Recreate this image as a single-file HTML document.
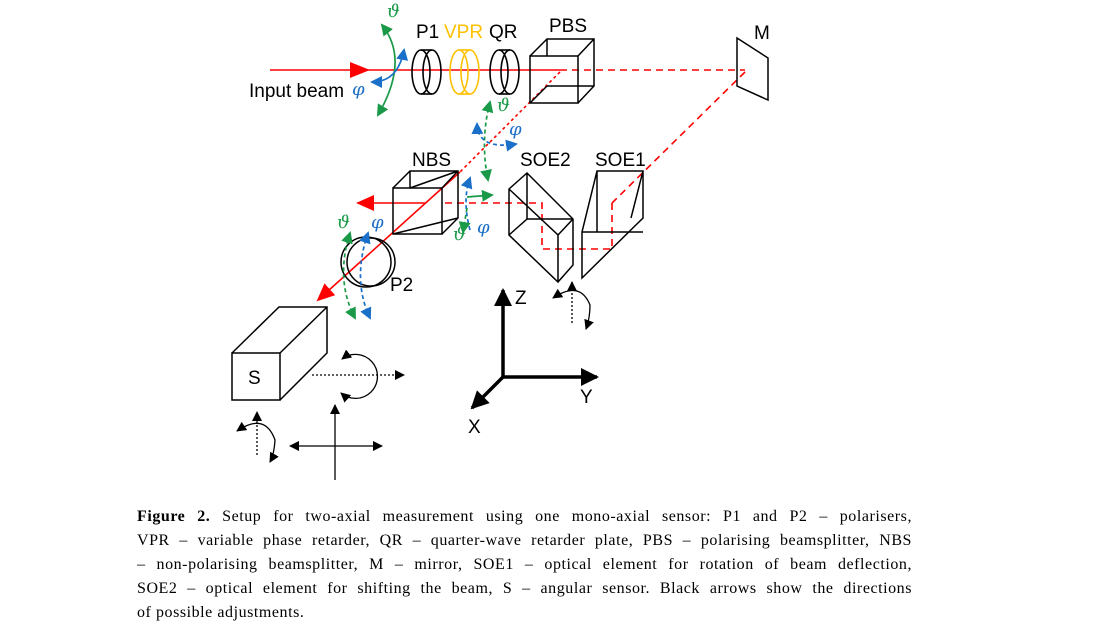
<!DOCTYPE html>
<html><head><meta charset="utf-8"><style>
body{margin:0;background:#fff;width:1109px;height:626px;overflow:hidden;position:relative}
svg{position:absolute;left:0;top:0}
.cap{position:absolute;left:137px;top:505px;width:775px;overflow:hidden;white-space:nowrap;font-family:"Liberation Serif",serif;font-size:16px;letter-spacing:0.55px;line-height:24px;color:#000}
.cap div{text-align:justify;text-align-last:justify}
.cap div.l{text-align-last:left}
</style></head><body>
<svg width="1109" height="626" viewBox="0 0 1109 626" font-family="Liberation Sans, sans-serif">
<defs>
<marker id="k" markerWidth="10" markerHeight="10" refX="9" refY="5" orient="auto-start-reverse" markerUnits="userSpaceOnUse"><path d="M0,0L10,5L0,10z" fill="#000"/></marker>
<marker id="kb" markerWidth="18" markerHeight="18" refX="16" refY="9" orient="auto" markerUnits="userSpaceOnUse"><path d="M0,0L18,9L0,18z" fill="#000"/></marker>
<marker id="g" markerWidth="12" markerHeight="12" refX="10" refY="6" orient="auto-start-reverse" markerUnits="userSpaceOnUse"><path d="M0,0L12,6L0,12z" fill="#1a9a48"/></marker>
<marker id="b" markerWidth="12" markerHeight="12" refX="10" refY="6" orient="auto-start-reverse" markerUnits="userSpaceOnUse"><path d="M0,0L12,6L0,12z" fill="#1a6fc8"/></marker>
<marker id="R" markerWidth="18" markerHeight="16" refX="16" refY="8" orient="auto" markerUnits="userSpaceOnUse"><path d="M0,0L18,8L0,16z" fill="#f00"/></marker>
</defs>
<g stroke="#f00" stroke-width="1.6" fill="none">
<line x1="270" y1="70" x2="560" y2="70"/>
<path d="M350,62L370,70L350,78z" fill="#f00" stroke="none"/>
<line x1="560" y1="70" x2="745" y2="70" stroke-dasharray="7,5"/>
<line x1="745" y1="72" x2="612" y2="203" stroke-dasharray="7,5"/>
<path d="M612,203V249H542V203H440" stroke-dasharray="7,5"/>
<line x1="425" y1="203" x2="358" y2="203" marker-end="url(#R)"/>
<line x1="560" y1="72" x2="460" y2="172" stroke-dasharray="3,3"/>
<line x1="460" y1="172" x2="318" y2="300" marker-end="url(#R)"/>
</g>
<g stroke="#000" stroke-width="1.6" fill="none">
<ellipse cx="421" cy="72" rx="9" ry="22"/><ellipse cx="432" cy="72" rx="9" ry="22"/><line x1="421" y1="50" x2="432" y2="50"/><line x1="421" y1="94" x2="432" y2="94"/>
<ellipse cx="499" cy="72" rx="9" ry="22"/><ellipse cx="510" cy="72" rx="9" ry="22"/><line x1="499" y1="50" x2="510" y2="50"/><line x1="499" y1="94" x2="510" y2="94"/>
</g>
<g stroke="#ffc000" stroke-width="1.6" fill="none">
<ellipse cx="459" cy="72" rx="9" ry="22"/><ellipse cx="470" cy="72" rx="9" ry="22"/><line x1="459" y1="50" x2="470" y2="50"/><line x1="459" y1="94" x2="470" y2="94"/>
</g>
<g stroke="#000" stroke-width="1.5" fill="none">
<rect x="530" y="56" width="48" height="47"/><path d="M530,56L547,39H594V86L578,103M578,56L594,39M547,39V56M547,86H594M530,103L547,86"/>
<path d="M737,38L768,58V100L737,86z"/>
<rect x="393" y="188" width="49" height="46"/><path d="M393,188L410,171H458V218L442,234M442,188L458,171M410,171V188M393,234L458,218M410,188L458,171"/>
<circle cx="366" cy="262" r="25"/><circle cx="371" cy="262" r="24"/>
<path d="M509,189L527,173L573,219V265L558,282L509,235z M509,189L558,235V282 M558,235L573,219 M527,173V219L509,235 M527,219H573"/>
<path d="M597,171H643V218L582,278V232L597,171z M582,232H643 M597,171V232 M643,171L631,218"/>
<rect x="232" y="353" width="48" height="47"/><path d="M232,353L279,307H327V353L280,400M280,353L327,307"/>
</g>
<g stroke="#000" stroke-width="3.5">
<line x1="503" y1="377" x2="503" y2="290" marker-end="url(#kb)"/>
<line x1="503" y1="377" x2="597" y2="377" marker-end="url(#kb)"/>
<line x1="503" y1="377" x2="472" y2="408" marker-end="url(#kb)"/>
</g>
<g stroke="#000" stroke-width="1.3" fill="none">
<line x1="312" y1="375" x2="404" y2="375" stroke-dasharray="2,2" marker-end="url(#k)"/>
<path d="M342,359A22,22 0 1 1 341,393" marker-start="url(#k)" marker-end="url(#k)"/>
<line x1="335" y1="405" x2="335" y2="480" marker-start="url(#k)"/>
<line x1="290" y1="446" x2="382" y2="446" marker-start="url(#k)" marker-end="url(#k)"/>
<line x1="257" y1="455" x2="257" y2="412" stroke-dasharray="2,2" marker-end="url(#k)"/>
<path d="M237,431Q265,412 275,440Q274,455 270,462" marker-start="url(#k)" marker-end="url(#k)"/>
<line x1="572" y1="323" x2="572" y2="282" stroke-dasharray="2,2" marker-end="url(#k)"/>
<path d="M553,298Q580,280 590,305Q590,318 586,329" marker-start="url(#k)" marker-end="url(#k)"/>
</g>
<g fill="none" stroke-width="1.7">
<path d="M382,25Q410,60 378,115" stroke="#1a9a48" marker-start="url(#g)" marker-end="url(#g)"/>
<path d="M372,82Q398,82 404,50" stroke="#1a6fc8" marker-start="url(#b)" marker-end="url(#b)"/>
<path d="M490,102Q480,140 488,180" stroke="#1a9a48" stroke-dasharray="4,3" marker-start="url(#g)" marker-end="url(#g)"/>
<path d="M477,124Q478,150 516,144" stroke="#1a6fc8" stroke-dasharray="4,3" marker-start="url(#b)" marker-end="url(#b)"/>
<path d="M467,197L492,195" stroke="#1a9a48" marker-end="url(#g)"/>
<path d="M470,230Q462,200 470,178" stroke="#1a6fc8" stroke-dasharray="4,3" marker-end="url(#b)"/>
<path d="M467,208L463,232" stroke="#1a9a48" stroke-dasharray="4,3" marker-end="url(#g)"/>
<path d="M350,233Q335,280 355,318" stroke="#1a9a48" stroke-dasharray="4,3" marker-start="url(#g)" marker-end="url(#g)"/>
<path d="M368,233Q352,280 370,318" stroke="#1a6fc8" stroke-dasharray="4,3" marker-start="url(#b)" marker-end="url(#b)"/>
</g>
<g font-size="19" fill="#000">
<text x="249" y="97">Input beam</text>
<text x="416" y="38">P1</text><text x="444" y="38" fill="#ffc000">VPR</text><text x="489" y="38">QR</text>
<text x="549" y="32">PBS</text><text x="754" y="39">M</text>
<text x="412" y="166">NBS</text><text x="520" y="166">SOE2</text><text x="595" y="166">SOE1</text>
<text x="390" y="291">P2</text><text x="248" y="384">S</text>
<text x="515" y="304">Z</text><text x="580" y="403">Y</text><text x="468" y="433">X</text>
</g>
<g font-size="18" font-style="italic" font-family="DejaVu Serif, serif">
<text x="387" y="17" fill="#1a9a48">ϑ</text><text x="352" y="95" fill="#1a6fc8">φ</text>
<text x="497" y="111" fill="#1a9a48">ϑ</text><text x="509" y="135" fill="#1a6fc8">φ</text>
<text x="453" y="240" fill="#1a9a48">ϑ</text><text x="477" y="233" fill="#1a6fc8">φ</text>
<text x="337" y="228" fill="#1a9a48">ϑ</text><text x="371" y="228" fill="#1a6fc8">φ</text>
</g>
</svg>
<div class="cap">
<div><b>Figure 2.</b> Setup for two-axial measurement using one mono-axial sensor: P1 and P2 – polarisers,</div>
<div>VPR – variable phase retarder, QR – quarter-wave retarder plate, PBS – polarising beamsplitter, NBS</div>
<div>– non-polarising beamsplitter, M – mirror, SOE1 – optical element for rotation of beam deflection,</div>
<div>SOE2 – optical element for shifting the beam, S – angular sensor. Black arrows show the directions</div>
<div class="l">of possible adjustments.</div>
</div>
</body></html>
